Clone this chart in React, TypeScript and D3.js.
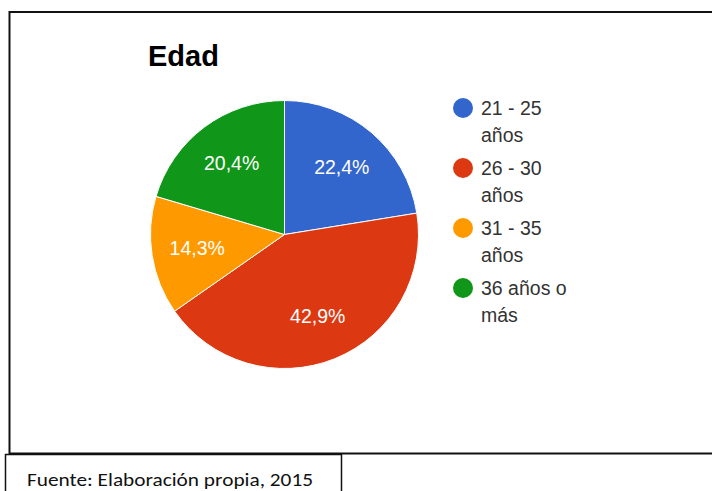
import React from "react";
import * as d3 from "d3";

const categories = ["21 - 25 años", "26 - 30 años", "31 - 35 años", "36 años o más"];
const legendLines = [["21 - 25", "años"], ["26 - 30", "años"], ["31 - 35", "años"], ["36 años o", "más"]];
const values = [11, 21, 7, 10];
const colors = ["#3366cc", "#dc3912", "#ff9900", "#109618"];
const title = "Edad";
const caption = "Fuente: Elaboración propia, 2015";

const W = 712;
const H = 491;
const FONT = "'Liberation Sans', Arial, sans-serif";

export default function App() {
  const cx = 284.5;
  const cy = 234.5;
  const r = 134;
  const total = d3.sum(values);
  const pie = d3.pie<number>().sort(null).value((d) => d);
  const arcs = pie(values);
  const arc = d3.arc<d3.PieArcDatum<number>>().innerRadius(0).outerRadius(r);
  const labelArc = d3.arc<d3.PieArcDatum<number>>().innerRadius(r * 0.66).outerRadius(r * 0.66);
  const fmt = (v: number) => (v / total * 100).toFixed(1).replace(".", ",") + "%";

  return (
    <svg width={W} height={H} style={{ position: "absolute", left: 0, top: 0, background: "#fff" }}>
      <rect x={0} y={0} width={W} height={H} fill="#fff" />
      {/* outer box */}
      <path d={`M ${W + 5} 12 H 9.5 V 453.5 H ${W + 5}`} fill="none" stroke="#111" strokeWidth={2} />
      {/* caption box */}
      <path d={`M 5.5 ${H + 5} V 454.5 H 341.5 V ${H + 5}`} fill="none" stroke="#111" strokeWidth={1.5} />
      <text x={27} y={486} fontFamily={"Calibri, Carlito, 'Liberation Sans Narrow', " + FONT} fontSize={19} fill="#111"
        textLength={286} lengthAdjust="spacingAndGlyphs">{caption}</text>

      <text x={148} y={66} fontFamily={FONT} fontSize={29} fontWeight="bold" fill="#000">{title}</text>

      <g transform={`translate(${cx},${cy})`}>
        {arcs.map((a, i) => (
          <path key={categories[i]} d={arc(a) || ""} fill={colors[i]} stroke="#fff" strokeWidth={1} />
        ))}
        {arcs.map((a, i) => {
          const [lx, ly] = labelArc.centroid(a);
          return (
            <text key={"l" + i} x={lx} y={ly} dy="0.35em" textAnchor="middle" fontFamily={FONT}
              fontSize={19.5} fill="#fff">{fmt(values[i])}</text>
          );
        })}
      </g>

      <g transform="translate(463,108)">
        {legendLines.map((lines, i) => (
          <g key={categories[i]} transform={`translate(0,${i * 60})`}>
            <circle cx={0} cy={0} r={10} fill={colors[i]} />
            {lines.map((t, j) => (
              <text key={j} x={18} y={7 + j * 27} fontFamily={FONT} fontSize={19.5} fill="#333">{t}</text>
            ))}
          </g>
        ))}
      </g>
    </svg>
  );
}
